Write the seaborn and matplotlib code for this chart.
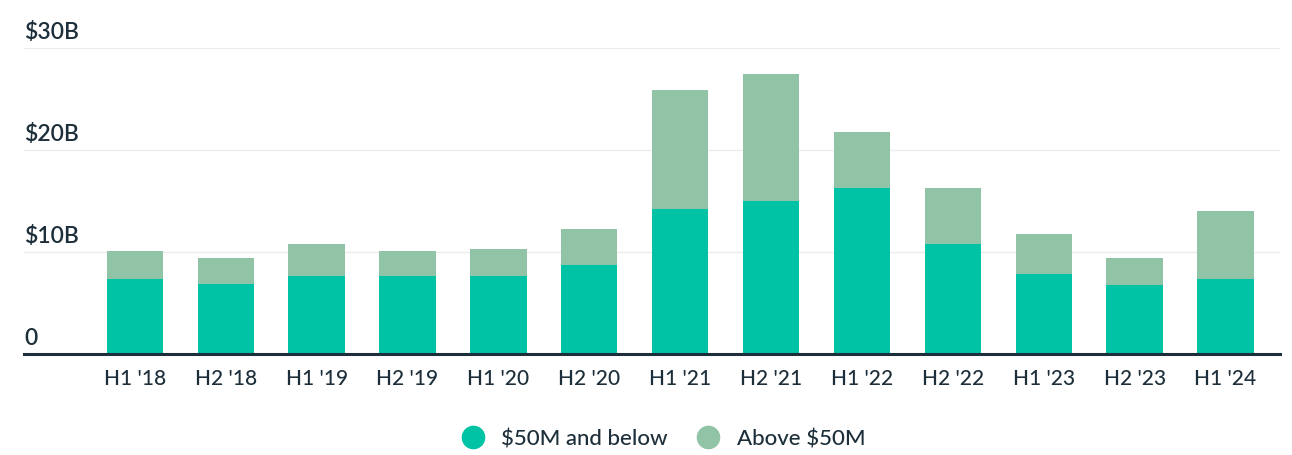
import pandas as pd
import matplotlib.pyplot as plt
import seaborn as sns
from matplotlib.lines import Line2D

periods = ["H1 '18", "H2 '18", "H1 '19", "H2 '19", "H1 '20", "H2 '20", "H1 '21",
           "H2 '21", "H1 '22", "H2 '22", "H1 '23", "H2 '23", "H1 '24"]
small = [7.35, 6.9, 7.65, 7.65, 7.65, 8.7, 14.2, 15.0, 16.3, 10.8, 7.8, 6.8, 7.3]
large = [2.75, 2.5, 3.15, 2.45, 2.6, 3.5, 11.7, 12.4, 5.4, 5.5, 4.0, 2.6, 6.7]

df = pd.DataFrame({'period': periods, 'small': small, 'large': large})
df['total'] = df['small'] + df['large']

dark = '#1d2f3a'
c_small = '#00c2a4'
c_large = '#91c4a7'

sns.set_style('white')
plt.rcParams['font.family'] = ['Lato', 'DejaVu Sans']

fig = plt.figure(figsize=(12.92, 4.56), dpi=100)
ax = fig.add_axes([24 / 1292, 1 - 355 / 456, (1280 - 24) / 1292, (355 - 48.7) / 456])

sns.barplot(data=df, x='period', y='total', color=c_large, width=0.62,
            saturation=1, linewidth=0, ax=ax, zorder=3)
sns.barplot(data=df, x='period', y='small', color=c_small, width=0.62,
            saturation=1, linewidth=0, ax=ax, zorder=3)

ax.set_xlim(-1.22, 12.6)
ax.set_ylim(0, 30)
for s in ['top', 'right', 'left']:
    ax.spines[s].set_visible(False)
ax.spines['bottom'].set_color(dark)
ax.spines['bottom'].set_linewidth(2.2)
ax.spines['bottom'].set_zorder(5)

for v in [10, 20, 30]:
    ax.axhline(v, color='#ececec', lw=1, zorder=1)

ytexts = ['0', '$10B', '$20B', '$30B']
for v, t in zip([0, 10, 20, 30], ytexts):
    ax.text(0.0, v + 0.6, t, transform=ax.get_yaxis_transform(), ha='left',
            va='bottom', fontsize=16.5, color=dark, fontweight='semibold')
ax.set_yticks([])
ax.set_xlabel('')
ax.set_ylabel('')
ax.tick_params(axis='x', length=0, pad=10, labelsize=15, labelcolor=dark)
for lab in ax.get_xticklabels():
    lab.set_fontweight('medium')

handles = [Line2D([], [], marker='o', ls='', markersize=16, color=c_small),
           Line2D([], [], marker='o', ls='', markersize=16, color=c_large)]
fig.legend(handles, ['$50M and below', 'Above $50M'], loc='center',
           bbox_to_anchor=(658 / 1292, 1 - 440 / 456), ncol=2, frameon=False,
           prop={'size': 16, 'weight': 'medium'}, labelcolor=dark,
           handletextpad=0.3, columnspacing=0.8)

fig.savefig('out.png', dpi=100)
